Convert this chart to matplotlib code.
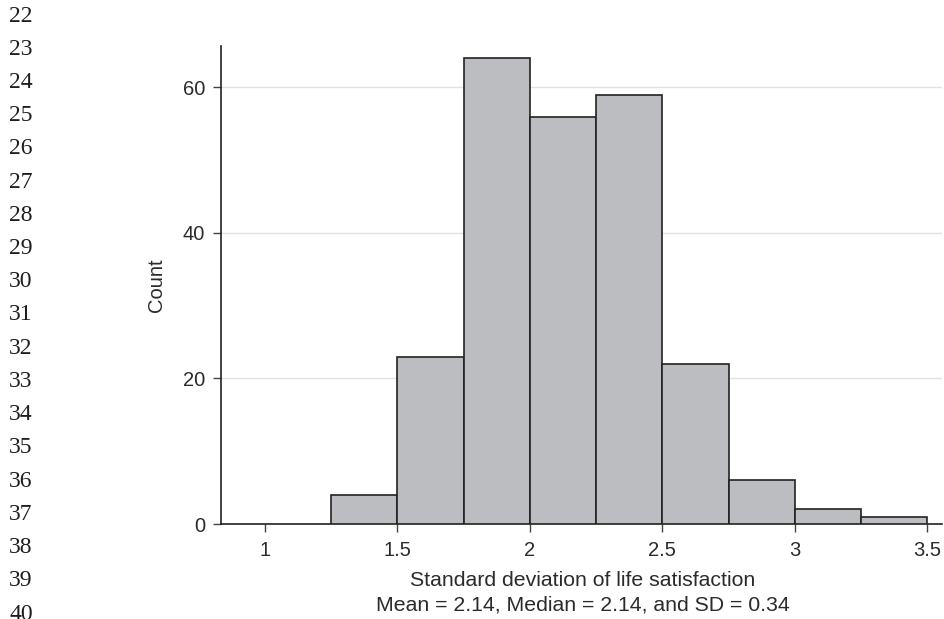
import numpy as np
import matplotlib
matplotlib.use("Agg")
import matplotlib.pyplot as plt

# histogram data (bin edges and counts)
bin_edges = [1.25, 1.5, 1.75, 2.0, 2.25, 2.5, 2.75, 3.0, 3.25, 3.5]
counts = [4, 23, 64, 56, 59, 22, 6, 2, 1]

x_ticks = [1, 1.5, 2, 2.5, 3, 3.5]
x_tick_labels = ["1", "1.5", "2", "2.5", "3", "3.5"]
y_ticks = [0, 20, 40, 60]

line_numbers = list(range(22, 41))

x_label = "Standard deviation of life satisfaction"
stats_label = "Mean = 2.14, Median = 2.14, and SD = 0.34"

plt.rcParams['font.family'] = ['Liberation Sans', 'DejaVu Sans']
fs = 14.5
txt_col = "#2b2b2b"

fig = plt.figure(figsize=(9.45, 6.19), dpi=100)
ax = fig.add_axes([221/945, 1 - 524/619, (942 - 221)/945, (524 - 46)/619])

# bars
lefts = np.array(bin_edges[:-1])
widths = np.diff(bin_edges)
ax.bar(lefts, counts, width=widths, align="edge", color="#bcbdc1",
       edgecolor="#222222", linewidth=1.2, zorder=3)

# grid
for y in y_ticks[1:]:
    ax.axhline(y, color="#e2e2e2", linewidth=1.0, zorder=1)

ax.set_xlim(0.835, 3.555)
ax.set_ylim(0, 65.7)
ax.set_xticks(x_ticks)
ax.set_xticklabels(x_tick_labels)
ax.set_yticks(y_ticks)

for s in ["top", "right"]:
    ax.spines[s].set_visible(False)
for s in ["left", "bottom"]:
    ax.spines[s].set_color("#222222")
    ax.spines[s].set_linewidth(1.2)

ax.tick_params(axis="both", direction="out", length=6, width=1.0,
               color="#444444", labelsize=fs, labelcolor=txt_col)
ax.tick_params(axis="x", pad=6)
ax.tick_params(axis="y", pad=5.5)

ax.set_ylabel("Count", fontsize=fs, color=txt_col, labelpad=12)

# x label, two lines
fig.text(583/945, 1 - 580/619, x_label, fontsize=15.3, color=txt_col,
         ha="center", va="center")
fig.text(583/945, 1 - 605/619, stats_label, fontsize=15.3, color=txt_col,
         ha="center", va="center")

# line numbers on the left margin
ys = np.linspace(1 - 16/619, 1 - 614/619, len(line_numbers))
for n, y in zip(line_numbers, ys):
    fig.text(9/945, y, str(n), fontsize=17, family=["Liberation Serif", "DejaVu Serif"],
             color="#1e1e1e", va="center", ha="left")

fig.savefig("out.png", dpi=100)
